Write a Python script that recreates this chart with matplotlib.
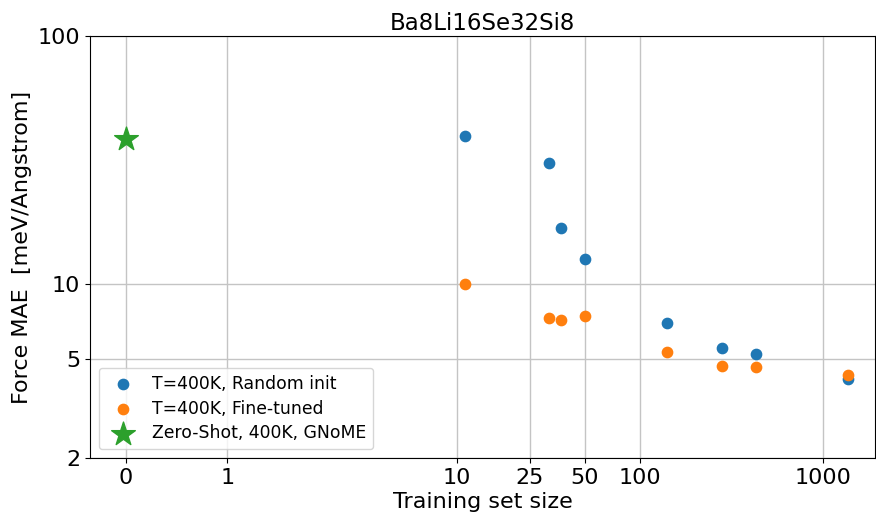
import numpy as np
import matplotlib
matplotlib.use("Agg")
from matplotlib import pyplot as plt

title = "Ba8Li16Se32Si8"

# training set sizes and force MAE [meV/A]
sizes_random = [11, 32, 37, 50, 140, 280, 430, 1360]
mae_random = [39.5, 30.8, 16.9, 12.6, 6.96, 5.56, 5.24, 4.17]

sizes_finetuned = [11, 32, 37, 50, 140, 280, 430, 1360]
mae_finetuned = [10.0, 7.34, 7.16, 7.43, 5.33, 4.70, 4.67, 4.30]

zero_shot_size = [0]
zero_shot_mae = [38.4]

xticks = [0, 1, 10, 25, 50, 100, 1000]
yticks = [2, 5, 10, 100]

fig = plt.figure(figsize=(8.76, 5.14), dpi=100)
ax = fig.add_axes([90 / 876, 1 - 458 / 514, 785 / 876, 422 / 514])

ax.scatter(sizes_random, mae_random, s=55, color="tab:blue", label="T=400K, Random init", zorder=3)
ax.scatter(sizes_finetuned, mae_finetuned, s=55, color="tab:orange", label="T=400K, Fine-tuned", zorder=3)
ax.scatter(zero_shot_size, zero_shot_mae, s=320, marker="*", color="tab:green",
           label="Zero-Shot, 400K, GNoME", zorder=3)

ax.set_xscale("symlog", linthresh=2, linscale=1)
ax.set_yscale("log")
ax.set_xlim(-0.35, 1920)
ax.set_ylim(2, 100)

ax.set_xticks(xticks)
ax.set_xticklabels([str(t) for t in xticks])
ax.xaxis.set_minor_locator(matplotlib.ticker.NullLocator())
ax.set_yticks(yticks)
ax.set_yticklabels([str(t) for t in yticks])
ax.yaxis.set_minor_locator(matplotlib.ticker.NullLocator())
ax.tick_params(labelsize=16)

ax.grid(True, color="#c4c4c4", linewidth=1)
ax.set_axisbelow(True)

ax.set_xlabel("Training set size", fontsize=16, labelpad=3)
ax.set_ylabel("Force MAE  [meV/Angstrom]", fontsize=16)
ax.set_title(title, fontsize=16.5, pad=4)
ax.legend(loc="lower left", fontsize=12.4, labelspacing=0.4, handletextpad=0.7)

plt.savefig("out.png", dpi=100)
